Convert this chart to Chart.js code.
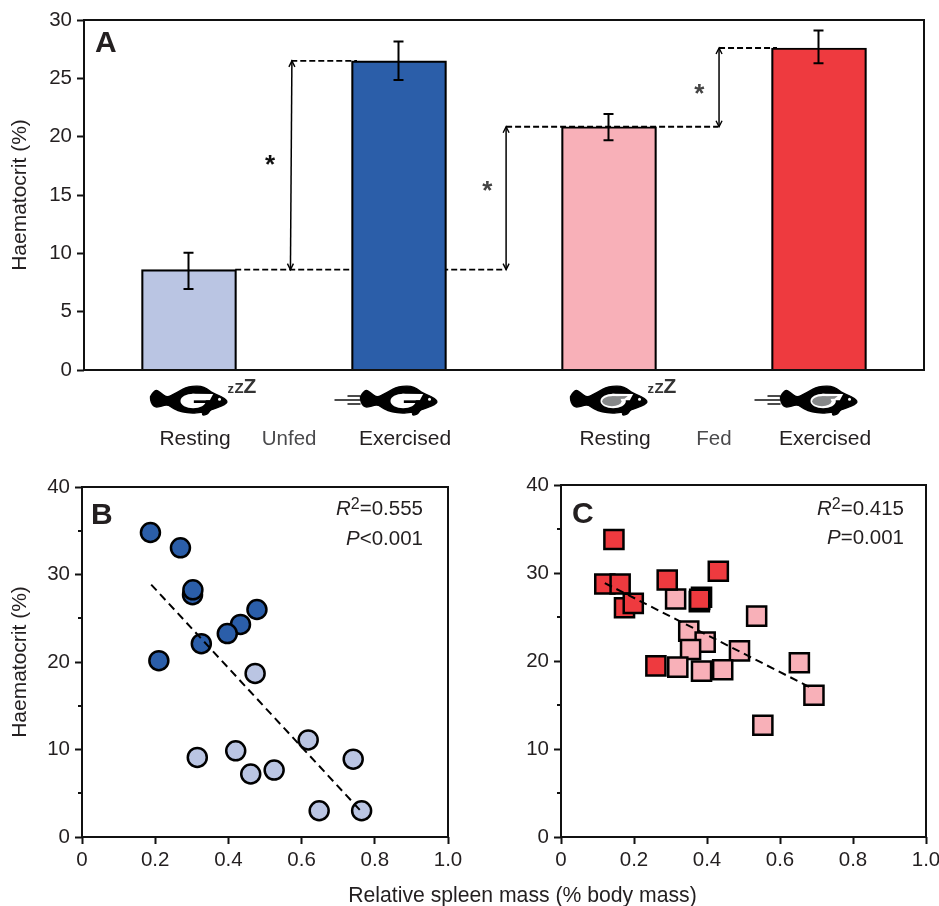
<!DOCTYPE html>
<html>
<head>
<meta charset="utf-8">
<script src="https://cdn.jsdelivr.net/npm/chart.js@4/dist/chart.umd.min.js"></script>
<style>
  html, body { margin: 0; background: #fff; }
  #page { position: relative; width: 939px; height: 906px; overflow: hidden; }
  canvas { position: absolute; }
  #xlabel { position: absolute; left: 0; top: 882px; width: 1045px; text-align: center;
    font: 21.2px "Liberation Sans", Arial, sans-serif; color: #231f20; line-height: 26px; }
</style>
</head>
<body>
<div id="page">
  <canvas id="panelA" width="939" height="465" style="left:0;top:0"></canvas>
  <canvas id="panelB" width="470" height="441" style="left:0;top:465px"></canvas>
  <canvas id="panelC" width="480" height="441" style="left:470px;top:465px"></canvas>
  <div id="xlabel">Relative spleen mass (% body mass)</div>
</div>
<script>
// Panel A
const barLabels = ['Resting', 'Exercised', 'Resting', 'Exercised'];
const barValues = [8.6, 26.5, 20.85, 27.6];
const errUpper = [10.05, 28.15, 21.95, 29.1];
const errLower = [6.95, 24.85, 19.7, 26.3];
const barColours = ['#bac5e3', '#2b5ea9', '#f8b0b8', '#ee3a3f'];
const feedLabels = ['Unfed', 'Fed'];
const feedPos = [0.477, 2.5];

// Panel B
const unfedMass = [0.473, 0.618, 0.741, 0.315, 0.42, 0.461, 0.525, 0.648, 0.764];
const unfedHct = [18.7, 11.1, 8.9, 9.1, 9.85, 7.2, 7.65, 3.0, 3.0];
const exMass = [0.187, 0.269, 0.302, 0.303, 0.478, 0.433, 0.397, 0.326, 0.21];
const exHct = [34.8, 33.05, 27.7, 28.25, 26.0, 24.3, 23.25, 22.1, 20.15];
const trendBx = [0.189, 0.759];
const trendBy = [28.85, 3.1];

// Panel C
const fedMass = [0.314, 0.379, 0.536, 0.35, 0.395, 0.355, 0.489, 0.32, 0.385, 0.443, 0.653, 0.693, 0.553];
const fedHct = [27.05, 26.75, 25.1, 23.4, 22.15, 21.3, 21.15, 19.3, 18.85, 19.0, 19.8, 16.1, 12.7];
const fedExMass = [0.145, 0.12, 0.162, 0.174, 0.198, 0.291, 0.431, 0.385, 0.38, 0.26];
const fedExHct = [33.8, 28.75, 28.75, 26.05, 26.55, 29.2, 30.2, 27.25, 27.0, 19.45];
const trendCx = [0.12, 0.69];
const trendCy = [28.85, 16.85];

// brackets: bar indexes they join, x in bar-index units
const arrowFrom = [0, 0, 2];
const arrowTo = [1, 2, 3];
const arrowX = [[0.483, 0.49], [1.51, 1.51], [2.524, 2.524]];
const starPos = [[0.386, 17.9], [1.42, 15.7], [2.43, 24.0]];
const starColours = ['#111', '#444', '#444'];

const FONT = '"Liberation Sans", Arial, sans-serif';
const INK = '#231f20';

function pairs(xs, ys) {
  return xs.map((x, i) => ({ x: x, y: ys[i] }));
}

function dashed(xs, ys, axis, width, dash, order) {
  return {
    type: 'line', xAxisID: axis, data: pairs(xs, ys), order: order,
    borderColor: '#000', borderWidth: width, borderDash: dash, pointRadius: 0, fill: false
  };
}

function axisTicks(size, pad) {
  return { color: INK, font: { family: FONT, size: size }, padding: pad };
}

const tickGrid = { drawOnChartArea: false, tickLength: 7, tickWidth: 2, tickColor: '#111' };

// box round the plot + panel letter
function framePlugin(letter, lx, ly) {
  return {
    id: 'frame' + letter,
    afterDatasetsDraw(chart) {
      const c = chart.ctx, a = chart.chartArea;
      c.save();
      c.strokeStyle = '#111';
      c.lineWidth = 2;
      c.strokeRect(a.left, a.top, a.right - a.left, a.bottom - a.top);
      c.fillStyle = INK;
      c.font = 'bold 30px ' + FONT;
      c.fillText(letter, lx, ly);
      c.restore();
    }
  };
}

function minorPlugin(values) {
  return {
    id: 'minorTicks',
    afterDatasetsDraw(chart) {
      const c = chart.ctx, s = chart.scales.y;
      c.save();
      c.strokeStyle = '#111';
      c.lineWidth = 2;
      values.forEach(v => {
        const y = Math.round(s.getPixelForValue(v));
        c.beginPath();
        c.moveTo(s.right - 4, y);
        c.lineTo(s.right, y);
        c.stroke();
      });
      c.restore();
    }
  };
}

// "R2=0.555" style text, right aligned
function statPlugin(rx, y1, y2, first, second) {
  function line(c, y, name, sup, rest) {
    const big = '20.5px ' + FONT, it = 'italic 20.5px ' + FONT, small = '16px ' + FONT;
    c.font = it; const w1 = c.measureText(name).width;
    c.font = small; const w2 = sup ? c.measureText(sup).width : 0;
    c.font = big; const w3 = c.measureText(rest).width;
    let x = rx - w1 - w2 - w3;
    c.font = it; c.fillText(name, x, y); x += w1;
    if (sup) { c.font = small; c.fillText(sup, x, y - 6); x += w2; }
    c.font = big; c.fillText(rest, x, y);
  }
  return {
    id: 'stats',
    afterDatasetsDraw(chart) {
      const c = chart.ctx;
      c.save();
      c.fillStyle = INK;
      line(c, y1, 'R', '2', first);
      line(c, y2, 'P', '', second);
      c.restore();
    }
  };
}

function drawFish(c, x0, cy, fed) {
  const pts = [[0,-10],[13,-33],[30,-22],[50,-7],[70,-18],[90,-28],[105,-37],[125,-41],[150,-42],[170,-34],[180,-24],
    [210,-12],[233,4],[222,14],[205,22],[180,30],[176,35],[170,43],[155,46],[158,38],[150,37],[125,40],
    [95,36],[70,27],[52,13],[30,19],[15,22],[5,14],[0,0]];
  c.save();
  c.translate(x0, cy);
  c.scale(1 / 3, 1 / 3);
  c.fillStyle = '#000';
  c.strokeStyle = '#000';
  c.lineWidth = 4;
  c.lineJoin = 'round';
  c.beginPath();
  c.moveTo(pts[0][0], pts[0][1]);
  for (let i = 1; i < pts.length; i++) {
    const n = pts[(i + 1) % pts.length];
    c.quadraticCurveTo(pts[i][0], pts[i][1], (pts[i][0] + n[0]) / 2, (pts[i][1] + n[1]) / 2);
  }
  c.closePath();
  c.fill();
  c.stroke();
  // belly
  c.fillStyle = '#fff';
  c.beginPath();
  c.ellipse(128, 3, 38, 22, 0, 0, Math.PI * 2);
  c.fill();
  c.beginPath();
  c.moveTo(125, -19);
  c.lineTo(188, -18);
  c.lineTo(178, 1);
  c.lineTo(135, 1);
  c.closePath();
  c.fill();
  if (fed) {
    c.fillStyle = '#868889';
    c.beginPath();
    c.ellipse(124, 4, 29, 15, 0, 0, Math.PI * 2);
    c.fill();
    c.beginPath();
    c.moveTo(124, -11);
    c.lineTo(172, -12);
    c.lineTo(162, -4);
    c.lineTo(124, -2);
    c.closePath();
    c.fill();
  } else {
    c.fillStyle = '#000';
    c.fillRect(130, 1, 50, 8);
  }
  // eye
  c.fillStyle = '#fff';
  c.beginPath();
  c.arc(207, -2, 4.5, 0, Math.PI * 2);
  c.fill();
  c.restore();
}

const annotateA = {
  id: 'annotateA',
  afterDatasetsDraw(chart) {
    const c = chart.ctx, xs = chart.scales.xn, ys = chart.scales.y;
    c.save();

    // error bars
    c.strokeStyle = '#000';
    c.lineWidth = 2;
    barValues.forEach((v, i) => {
      const x = Math.round(xs.getPixelForValue(i)) - 0.5;
      const t = ys.getPixelForValue(errUpper[i]), b = ys.getPixelForValue(errLower[i]);
      c.beginPath();
      c.moveTo(x, t); c.lineTo(x, b);
      c.moveTo(x - 5, t); c.lineTo(x + 5, t);
      c.moveTo(x - 5, b); c.lineTo(x + 5, b);
      c.stroke();
    });

    // arrow heads on the three brackets
    c.lineWidth = 1.4;
    arrowX.forEach((a, i) => {
      const lo = ys.getPixelForValue(barValues[arrowFrom[i]]), hi = ys.getPixelForValue(barValues[arrowTo[i]]);
      const xl = xs.getPixelForValue(a[0]), xh = xs.getPixelForValue(a[1]);
      c.beginPath();
      c.moveTo(xl - 3, lo - 6); c.lineTo(xl, lo); c.lineTo(xl + 3, lo - 6);
      c.moveTo(xh - 3, hi + 6); c.lineTo(xh, hi); c.lineTo(xh + 3, hi + 6);
      c.stroke();
    });

    // stars
    c.font = 'bold 26px ' + FONT;
    c.textAlign = 'center';
    c.textBaseline = 'middle';
    starPos.forEach((p, i) => {
      c.fillStyle = starColours[i];
      c.fillText('*', xs.getPixelForValue(p[0]), ys.getPixelForValue(p[1]) + 5);
    });

    // Unfed / Fed
    c.font = '20.5px ' + FONT;
    c.fillStyle = '#4a4a4c';
    c.textBaseline = 'alphabetic';
    feedLabels.forEach((t, i) => c.fillText(t, xs.getPixelForValue(feedPos[i]), 445));
    c.textAlign = 'left';

    // fish row, hung under each bar
    barValues.forEach((v, i) => {
      const fx = xs.getPixelForValue(i) - 38.5;
      const fed = i > 1;
      drawFish(c, fx, 400, fed);
      if (i % 2 === 0) {
        c.fillStyle = '#333';
        c.font = 'bold 13px ' + FONT;
        c.fillText('z', fx + 77, 393);
        c.font = 'bold 15px ' + FONT;
        c.fillText('Z', fx + 84, 393);
        c.font = 'bold 21px ' + FONT;
        c.fillText('Z', fx + 93, 393);
      } else {
        c.strokeStyle = '#111';
        c.lineWidth = 1.6;
        c.beginPath();
        c.moveTo(fx - 26, 400); c.lineTo(fx, 400);
        c.moveTo(fx - 13, 396); c.lineTo(fx, 396);
        c.moveTo(fx - 13, 404); c.lineTo(fx, 404);
        c.stroke();
      }
    });
    c.restore();
  }
};

new Chart(document.getElementById('panelA'), {
  data: {
    labels: barLabels,
    datasets: [
      // arrows sit on top, dashes run behind the bars
      ...arrowX.map((a, i) => ({
        type: 'line', xAxisID: 'xn', order: 0,
        data: pairs(a, [barValues[arrowFrom[i]], barValues[arrowTo[i]]]),
        borderColor: '#000', borderWidth: 1.5, pointRadius: 0
      })),
      {
        type: 'bar', data: barValues, order: 1, grouped: false,
        backgroundColor: barColours, borderColor: '#000', borderWidth: 2.2,
        barThickness: 95
      },
      dashed([0.22, 1.5], [barValues[0], barValues[0]], 'xn', 1.8, [6, 3], 2),
      dashed([0.487, 0.8], [barValues[1], barValues[1]], 'xn', 1.8, [6, 3], 2),
      dashed([1.51, 2.52], [barValues[2], barValues[2]], 'xn', 1.8, [6, 3], 2),
      dashed([2.524, 2.8], [barValues[3], barValues[3]], 'xn', 1.8, [6, 3], 2)
    ]
  },
  options: {
    responsive: false, animation: false,
    layout: { padding: { top: 20, right: 15 } },
    plugins: { legend: { display: false }, tooltip: { enabled: false } },
    scales: {
      x: {
        type: 'category', offset: true,
        grid: { display: false, drawTicks: false }, border: { display: false },
        ticks: { ...axisTicks(21, 57), labelOffset: 6, maxRotation: 0, autoSkip: false },
        afterFit: s => { s.height = 95; }
      },
      xn: { type: 'linear', display: false, min: -0.5, max: 3.5 },
      y: {
        min: 0, max: 30,
        grid: tickGrid, border: { display: false },
        ticks: { ...axisTicks(20.5, 5), stepSize: 5 },
        title: { display: true, text: 'Haematocrit (%)', color: INK, font: { family: FONT, size: 21 }, padding: { top: 8 } },
        afterFit: s => { s.width = 84; }
      }
    }
  },
  plugins: [annotateA, framePlugin('A', 95, 52)]
});

function scatterOptions(padTop, padRight, yWidth, title) {
  return {
    responsive: false, animation: false,
    layout: { padding: { top: padTop, right: padRight } },
    plugins: { legend: { display: false }, tooltip: { enabled: false } },
    scales: {
      x: {
        type: 'linear', min: 0, max: 1,
        grid: tickGrid, border: { display: false },
        ticks: {
          ...axisTicks(20.5, 4), stepSize: 0.2, maxRotation: 0,
          callback: v => v === 0 ? '0' : v.toFixed(1)
        },
        afterFit: s => { s.height = 69; }
      },
      y: {
        min: 0, max: 40,
        grid: tickGrid, border: { display: false },
        ticks: { ...axisTicks(20.5, 5), stepSize: 10 },
        title: title ? { display: true, text: title, color: INK, font: { family: FONT, size: 21 }, padding: { top: 8 } } : { display: false },
        afterFit: s => { s.width = yWidth; }
      }
    }
  };
}

new Chart(document.getElementById('panelB'), {
  type: 'scatter',
  data: {
    datasets: [
      { ...dashed(trendBx, trendBy, 'x', 2, [8, 5], 0), showLine: true },
      { data: pairs(exMass, exHct), order: 1, backgroundColor: barColours[1], borderColor: '#000', borderWidth: 2.5, pointRadius: 9.5 },
      { data: pairs(unfedMass, unfedHct), order: 2, backgroundColor: barColours[0], borderColor: '#000', borderWidth: 2.5, pointRadius: 9.5 }
    ]
  },
  options: scatterOptions(22, 22, 82, 'Haematocrit (%)'),
  plugins: [framePlugin('B', 91, 59), minorPlugin([5, 15, 25, 35]), statPlugin(423, 50, 80, '=0.555', '<0.001')]
});

new Chart(document.getElementById('panelC'), {
  type: 'scatter',
  data: {
    datasets: [
      { ...dashed(trendCx, trendCy, 'x', 2, [8, 5], 0), showLine: true },
      { data: pairs(fedExMass, fedExHct), order: 1, pointStyle: 'rect', backgroundColor: barColours[3], borderColor: '#000', borderWidth: 2.5, pointRadius: 13.5 },
      { data: pairs(fedMass, fedHct), order: 2, pointStyle: 'rect', backgroundColor: barColours[2], borderColor: '#000', borderWidth: 2.5, pointRadius: 13.5 }
    ]
  },
  options: scatterOptions(20, 24, 91, ''),
  plugins: [framePlugin('C', 102, 58), minorPlugin([5, 15, 25, 35]), statPlugin(434, 50, 79, '=0.415', '=0.001')]
});
</script>
</body>
</html>
